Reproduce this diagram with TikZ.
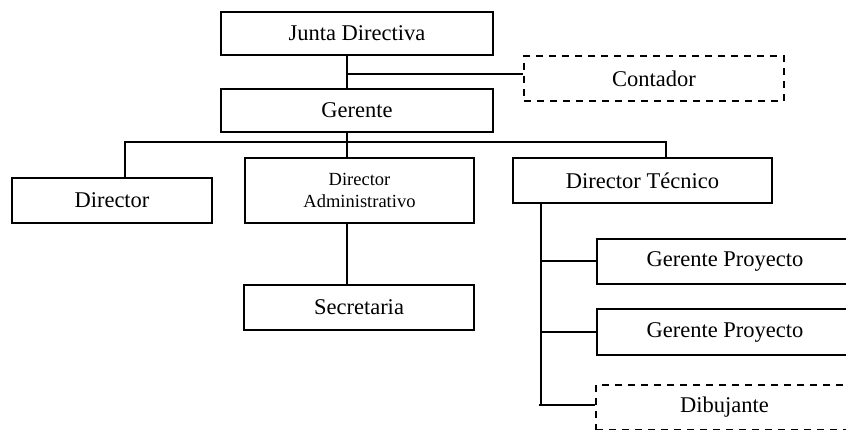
\documentclass[tikz,border=0pt]{standalone}
\usepackage{fontspec}
\setmainfont{Liberation Serif}
\begin{document}
\begin{tikzpicture}[x=1pt,y=-1pt,
  box/.style={draw=black,line width=1.4pt,inner sep=0pt,align=center,
    font=\fontsize{22.5}{26}\selectfont},
  dbox/.style={box,dash pattern=on 7pt off 6pt},
  conn/.style={draw=black,line width=2pt}]
\clip (0,0) rectangle (846,430);
\fill[white] (0,0) rectangle (846,430);
% boxes
\node[box,minimum width=272pt,minimum height=43pt] (junta) at (357,33.5) {Junta Directiva};
\node[box,minimum width=272pt,minimum height=43pt] (gerente) at (357,110.5) {Gerente};
\node[dbox,minimum width=260pt,minimum height=45pt] (contador) at (654,78.5) {Contador};
\node[box,minimum width=200pt,minimum height=45pt] (director) at (112,200.5) {Director};
\node[box,minimum width=229pt,minimum height=65pt,font=\fontsize{18.5}{22}\selectfont] (diradm) at (359.5,190.5) {Director\\Administrativo};
\node[box,minimum width=230pt,minimum height=45pt] (secre) at (359,307.5) {Secretaria};
\node[box,minimum width=259pt,minimum height=45pt] (dirtec) at (642.5,180.5) {Director Técnico};
\node[box,minimum width=256pt,minimum height=45pt] (gp1) at (725,261.5) {Gerente Proyecto};
\node[box,minimum width=256pt,minimum height=46pt] (gp2) at (725,332) {Gerente Proyecto};
\node[dbox,minimum width=257pt,minimum height=45pt] (dibu) at (724.5,407.5) {Dibujante};
% helper coordinates
\coordinate (cx) at (346.5,0);
\coordinate (cy) at (0,74);
\coordinate (bus) at (0,142);
\coordinate (dx) at (125,0);
\coordinate (tx) at (666,0);
\coordinate (vx) at (541,0);
\coordinate (dy) at (0,405);
% connectors
\draw[conn] (junta.south -| cx) -- (gerente.north -| cx);
\draw[conn] (cx |- cy) -- (contador.west |- cy);
\draw[conn] (gerente.south -| cx) -- (diradm.north -| cx);
\draw[conn] (director.north -| dx) -- (dx |- bus) -- (tx |- bus) -- (dirtec.north -| tx);
\draw[conn] (diradm.south -| cx) -- (secre.north -| cx);
\draw[conn] (dirtec.south -| vx) -- (vx |- dy);
\draw[conn] (vx |- gp1.west) -- (gp1.west);
\draw[conn] (vx |- gp2.west) -- (gp2.west);
\draw[conn] ([xshift=-2pt]vx |- dy) -- (dibu.west |- dy);
\end{tikzpicture}
\end{document}
